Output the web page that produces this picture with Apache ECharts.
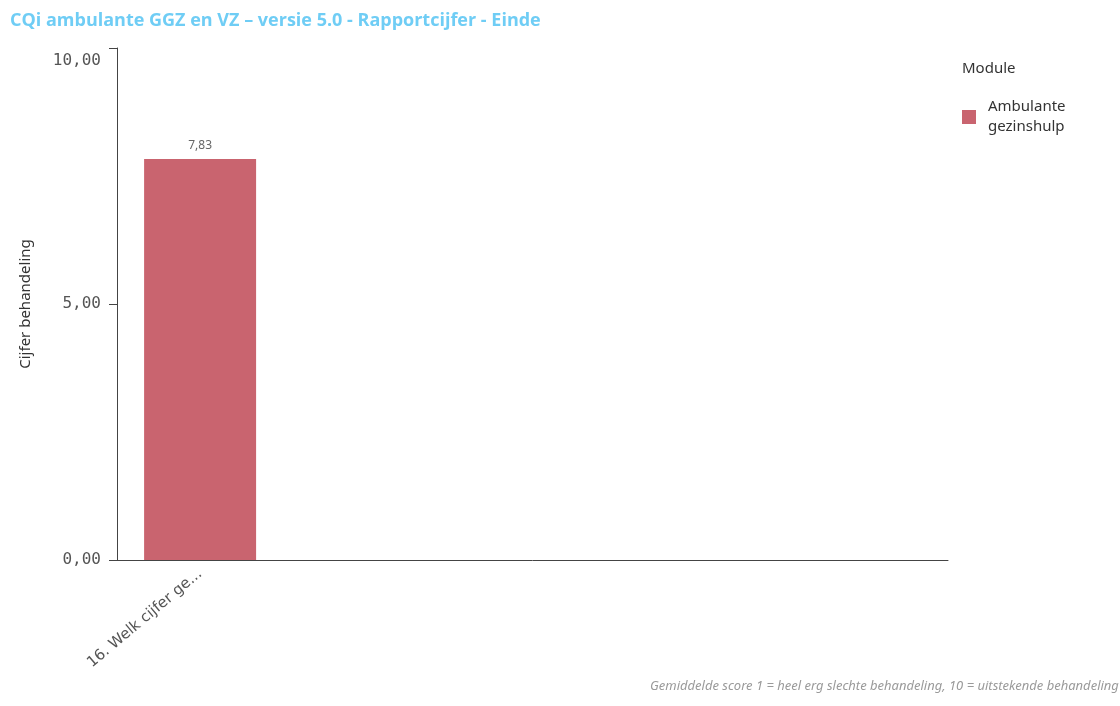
<!DOCTYPE html>
<html>
<head>
<meta charset="utf-8">
<script src="https://cdn.jsdelivr.net/npm/echarts@6/dist/echarts.min.js"></script>
<style>
html,body{margin:0;padding:0;background:#fff;}
#chart{width:1120px;height:706px;}
</style>
</head>
<body>
<div id="chart"></div>
<script>
const categories = ['16. Welk cijfer ge...'];
const seriesName = 'Ambulante\ngezinshulp';
const values = [7.83];
const yTicks = [0, 5, 10];
const titleText = 'CQi ambulante GGZ en VZ \u2013 versie 5.0 - Rapportcijfer - Einde';
const footText = 'Gemiddelde score 1 = heel erg slechte behandeling, 10 = uitstekende behandeling';

const fmt = v => v.toFixed(2).replace('.', ',');

const chart = echarts.init(document.getElementById('chart'), null, {renderer: 'canvas'});
chart.setOption({
  animation: false,
  backgroundColor: '#ffffff',
  title: {
    text: titleText,
    left: 10, top: 12, padding: 0,
    textStyle: {color: '#6fcdf5', fontSize: 18, fontWeight: 'bold', fontFamily: 'Open Sans'}
  },
  graphic: [
    {type: 'text', left: 962, top: 61, style: {text: 'Module', fill: '#333', font: '15px "Noto Sans"'}},
    {type: 'text', left: 650, top: 680, style: {text: footText, fill: '#9a9a9a', font: 'italic 13px "Noto Sans"'}}
  ],
  legend: {
    orient: 'vertical',
    left: 962, top: 96, padding: 0,
    itemWidth: 14, itemHeight: 14,
    icon: 'rect',
    textStyle: {color: '#333', fontSize: 15, fontFamily: 'Noto Sans', lineHeight: 20, padding: [2, 0, 0, 7]}
  },
  grid: {left: 117, right: 172, top: 48, bottom: 146, containLabel: false},
  xAxis: {
    type: 'category',
    data: categories,
    max: 4,
    axisLine: {lineStyle: {color: '#444', width: 1}},
    axisTick: {show: false},
    axisLabel: {
      interval: 0, rotate: 40, color: '#555', fontSize: 15, fontFamily: 'DejaVu Sans', margin: 12,
      formatter: v => (v === undefined || v === null || v === 'undefined') ? '' : v
    }
  },
  yAxis: {
    type: 'value',
    min: 0, max: 10, interval: 5,
    name: 'Cijfer behandeling',
    nameLocation: 'middle',
    nameGap: 84,
    nameRotate: 90,
    nameTextStyle: {color: '#333', fontSize: 15, fontFamily: 'Noto Sans'},
    axisLine: {show: true, lineStyle: {color: '#444', width: 1}},
    axisTick: {show: true, length: 8, lineStyle: {color: '#444'}},
    splitLine: {show: false},
    axisLabel: {
      color: '#555', fontSize: 16, fontFamily: 'DejaVu Sans Mono', margin: 16,
      formatter: v => yTicks.indexOf(v) === yTicks.length - 1 ? '{top|' + fmt(v) + '}' : fmt(v),
      rich: {top: {color: '#555', fontSize: 16, fontFamily: 'DejaVu Sans Mono', padding: [26, 0, 0, 0]}}
    }
  },
  series: [{
    name: seriesName,
    type: 'bar',
    data: values,
    barWidth: 112,
    itemStyle: {color: '#c9646f'},
    label: {
      show: true, position: 'top', distance: 8,
      color: '#666', fontSize: 12, fontFamily: 'Noto Sans',
      formatter: p => fmt(p.value)
    }
  }]
});
</script>
</body>
</html>
